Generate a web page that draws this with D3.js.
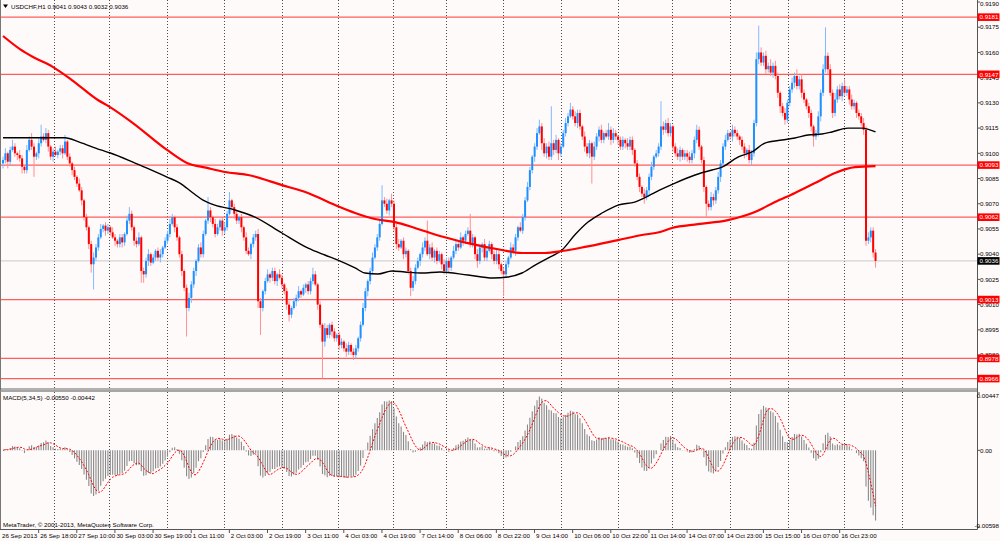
<!DOCTYPE html>
<html><head><meta charset="utf-8">
<script src="https://cdn.jsdelivr.net/npm/d3@7"></script>
<style>
html,body{margin:0;padding:0;background:#fffafa;}
svg{display:block;font-family:"Liberation Sans",Arial,sans-serif;}
</style>
</head><body>
<svg id="c" width="1000" height="541"></svg>
<script>
// ---------------- DATA ----------------
const symbolTitle = "USDCHF,H1";
const headerOHLC = ["0.9041", "0.9043", "0.9032", "0.9036"];
const macdTitle = "MACD(5,34,5) -0.00550 -0.00442";
const copyright = "MetaTrader, \u00A9 2001-2013, MetaQuotes Software Corp.";
const basePrice = 0.9;           // price values below are pips above 0.9000
const firstOpen = 94;
const closes = [
  96,100,95,102,104,100,99,97,92,90,
  102,108,104,98,100,106,110,108,112,104,
  98,101,99,101,103,100,107,98,94,90,
  86,82,78,72,62,56,46,34,38,44,
  50,55,57,54,56,53,50,48,46,50,
  47,52,60,64,56,48,46,50,30,28,
  36,40,35,38,42,38,40,44,48,52,
  58,62,56,50,40,30,20,8,14,22,
  30,36,44,40,52,60,66,62,58,52,
  56,60,54,56,64,72,68,64,60,62,
  56,50,42,40,46,50,52,12,8,18,
  24,28,26,30,24,28,26,22,18,10,
  4,8,12,14,18,16,20,22,18,24,
  28,22,10,-2,-12,-4,-8,-2,-6,-10,
  -8,-14,-12,-16,-18,-14,-18,-20,-16,-10,
  -2,8,18,24,30,38,44,50,58,72,
  70,66,72,70,56,46,44,48,40,42,
  30,20,24,32,36,40,44,48,40,44,
  38,42,36,40,34,30,36,32,38,42,
  46,44,50,48,52,54,46,50,40,36,
  44,46,38,42,46,40,36,40,34,30,
  28,34,38,44,42,50,56,54,62,72,
  80,90,98,104,112,116,106,100,104,98,
  106,102,108,100,104,112,118,122,126,122,
  118,124,116,110,104,100,106,98,104,110,
  114,108,112,110,114,108,112,110,108,104,
  108,106,104,108,102,94,86,80,76,74,
  78,86,92,98,100,104,116,114,118,112,
  116,104,100,98,102,98,100,98,96,100,
  108,114,104,96,80,70,68,74,72,78,
  86,94,104,108,112,110,114,112,110,108,
  104,100,102,96,100,118,156,160,154,158,
  150,152,148,152,146,136,128,124,120,130,
  138,142,146,140,144,136,132,128,124,116,
  110,112,122,136,150,158,150,136,124,132,
  138,134,140,136,138,132,128,130,124,122,
  118,114,48,50,54,41,36
];
const wickUp = [
  2,3,1,2,4,2,1,3,2,1,
  3,2,4,2,1,3,7,2,3,2,
  1,2,3,1,2,2,4,1,2,1,
  2,1,3,2,1,2,1,2,3,2,
  2,3,1,2,2,1,3,2,1,2,
  2,1,3,4,2,1,2,3,1,2,
  2,3,1,2,1,2,3,1,2,2,
  3,2,1,2,1,2,1,2,3,2,
  2,1,2,3,2,1,8,2,1,3,
  2,1,2,3,2,5,1,2,2,1,
  2,1,3,2,1,2,2,3,2,1,
  2,3,1,2,2,1,3,2,1,2,
  2,1,2,2,3,1,2,1,2,2,
  4,2,1,2,1,3,2,1,2,2,
  1,2,2,1,3,2,1,2,2,1,
  2,3,2,1,2,3,2,2,3,9,
  2,3,1,4,2,2,3,1,2,2,
  1,2,3,2,2,1,3,2,12,2,
  3,1,2,2,1,3,2,2,1,3,
  2,2,3,1,2,2,10,2,1,3,
  2,1,3,2,2,1,2,3,2,1,
  2,2,1,3,2,2,1,3,2,2,
  3,2,1,2,3,4,2,3,2,3,
  22,2,3,1,2,2,3,2,4,2,
  3,2,2,1,3,2,2,1,3,2,
  2,3,1,2,4,2,3,2,1,2,
  2,1,3,2,2,1,2,2,1,3,
  2,2,3,1,2,2,15,3,2,3,
  2,1,2,3,2,1,2,2,3,2,
  2,3,2,1,2,1,2,3,2,2,
  3,2,2,3,2,1,3,2,2,1,
  2,2,1,3,2,2,4,16,3,2,
  3,2,4,2,3,2,1,2,3,2,
  2,3,2,4,2,3,2,1,2,2,
  1,2,3,2,3,17,2,3,2,4,
  2,3,2,4,2,2,3,2,1,2,
  2,3,2,3,2,2,2
];
const wickDn = [
  3,2,4,2,1,2,3,2,4,2,
  2,1,2,12,2,3,2,1,2,3,
  2,3,1,2,2,3,1,2,2,3,
  2,2,1,3,2,2,3,5,15,2,
  2,1,2,3,2,2,1,3,2,2,
  3,2,1,2,2,3,2,1,7,5,
  2,3,2,1,2,2,3,2,1,2,
  2,1,3,2,2,3,2,17,2,3,
  2,3,1,2,2,1,2,3,2,2,
  1,2,3,2,2,1,2,3,2,2,
  3,2,2,1,3,2,2,4,16,2,
  2,1,3,2,2,3,1,2,2,3,
  4,2,1,3,2,2,1,3,2,2,
  2,1,3,2,22,3,2,2,3,2,
  2,3,2,2,3,2,2,3,2,2,
  2,1,2,3,2,2,1,2,2,1,
  2,2,3,2,2,3,2,1,3,2,
  2,5,2,2,1,3,2,2,1,3,
  2,3,2,1,3,2,2,3,2,1,
  2,2,1,3,2,1,2,2,3,4,
  2,3,2,2,1,3,2,2,3,2,
  13,2,2,1,2,3,2,1,2,2,
  1,2,2,3,2,1,4,2,3,2,
  2,3,2,4,2,1,2,2,1,2,
  2,3,2,2,3,2,3,16,2,2,
  3,2,2,1,2,3,2,2,3,2,
  2,3,2,2,3,2,2,3,2,4,
  2,3,2,2,1,2,2,3,2,2,
  2,3,2,2,3,2,2,3,2,2,
  3,2,2,2,3,8,2,2,3,2,
  2,3,2,2,1,2,3,2,2,3,
  2,3,2,2,3,2,2,3,2,2,
  3,2,2,3,2,3,4,2,3,2,
  2,2,3,2,2,3,2,2,3,3,
  6,2,2,3,2,2,3,2,3,2,
  2,2,3,2,2,3,2,2,3,2,
  2,3,3,2,3,3,4
];
// moving averages: [bar index, pips above 0.9000]
const maBlack = [[0,109.3],[26,109.3],[32,106.7],[41,102],[45,100.2],[54.5,94.8],[60.4,91.2],[68.8,85.9],[74.2,82.3],[79.7,76.4],[83.9,72.2],[88.9,69.2],[97.3,66.3],[105.7,62.1],[117,52.6],[128,43.6],[135,39.5],[140.5,36.5],[147.7,31.8],[151.8,28.8],[157.3,28.2],[163.2,30],[168.6,29.4],[175.8,28.8],[183.3,29.4],[195,27.6],[205.5,25.8],[211.8,26.4],[217.7,28.8],[223.2,33.5],[228.6,37.7],[234.5,42.5],[239.9,51.5],[245.4,59.1],[251.3,64.5],[258,69.2],[265,71],[270.6,74.6],[275.6,78.2],[281.9,82.3],[290.3,87.1],[297.4,90.1],[301.6,91.8],[308.3,97.8],[314.2,100.8],[319.6,106.1],[326.8,107.9],[332.2,109.1],[337.7,110.9],[343.5,111.5],[347.7,112.7],[354.4,115],[360.3,115],[366,112.7]];
const maRed = [[0,169.8],[7.1,162],[12.6,157.3],[21,151.3],[28.9,143.6],[39.8,131.7],[44.9,127.5],[54.5,118],[68.8,102],[77.2,94.2],[85.6,91.3],[93.1,88.9],[102.8,87.1],[117,81.1],[127.9,76.4],[139.3,69.2],[147.7,64.5],[156,60.9],[164.4,59.1],[172.8,55.6],[183.3,50.8],[195,46.6],[209.3,42.5],[217.7,40.7],[227.3,40.7],[234.5,41.9],[244.1,44.3],[258,48.4],[268,51.4],[275.6,53.2],[280.6,55.6],[291.5,57.9],[304.1,60.3],[315.4,65.1],[323.8,71],[332.2,76.4],[340.6,82.3],[349,88.3],[357.4,91.8],[366,92.4]];
const levels = [0.9181, 0.9147, 0.9093, 0.9062, 0.9013, 0.8978, 0.8966];
const lastPrice = 0.9036;
const priceTicks = [0.9190,0.9175,0.9160,0.9145,0.9130,0.9115,0.9100,0.9085,0.9070,0.9055,0.9040,0.9025,0.9010,0.8995,0.8980,0.8965];
const priceDomain = [0.89604, 0.91912];
const macdTicks = [0.00447, 0, -0.00598];
const macdTickLabels = ["0.00447", "0.00", "-0.00598"];
const macdFast = 5, macdSlow = 34, macdSignal = 5;
const timeLabels = ["26 Sep 2013","26 Sep 18:00","27 Sep 10:00","30 Sep 03:00","30 Sep 19:00","1 Oct 11:00","2 Oct 03:00","2 Oct 19:00","3 Oct 11:00","4 Oct 03:00","4 Oct 19:00","7 Oct 14:00","8 Oct 06:00","8 Oct 22:00","9 Oct 14:00","10 Oct 06:00","10 Oct 22:00","11 Oct 14:00","14 Oct 07:00","14 Oct 23:00","15 Oct 15:00","16 Oct 07:00","16 Oct 23:00"];
const labelEvery = 16;
const gridBars = [21.4,44.5,68.8,92.7,117.0,140.5,163.6,185.8,209.7,234.1,258.0,280.6,304.9,329.3,352.8,377.1];

// ---------------- LAYOUT ----------------
const plotR = 977, mainTop = 0, mainBot = 388, macdTop = 392, macdBot = 529;
const barStep = 2.384, x0 = 3;
const FS = 6.2;
const svg = d3.select("#c");
const N = closes.length;
const P = p => basePrice + p / 10000;

const x = d3.scaleLinear().domain([0, N - 1]).range([x0, x0 + (N - 1) * barStep]);
const y = d3.scaleLinear().domain(priceDomain).range([mainBot, mainTop]);
const ym = d3.scaleLinear().domain([macdTicks[2], macdTicks[0]]).range([527, 393]);

svg.append("rect").attr("width", 1000).attr("height", 541).attr("fill", "#fffafa");

const defs = svg.append("defs");
defs.append("clipPath").attr("id", "clipMain").append("rect")
  .attr("x", 1).attr("y", mainTop).attr("width", plotR - 1).attr("height", mainBot - mainTop);
defs.append("clipPath").attr("id", "clipMacd").append("rect")
  .attr("x", 1).attr("y", macdTop).attr("width", plotR - 1).attr("height", macdBot - macdTop);

// vertical dotted grid (both panels)
const grid = svg.append("g");
gridBars.forEach(b => {
  const gx = Math.round(x(b)) + 0.5;
  [[mainTop, mainBot], [macdTop, macdBot]].forEach(([a, c]) => {
    grid.append("line").attr("x1", gx).attr("x2", gx).attr("y1", a).attr("y2", c)
      .attr("stroke", "#4a4a4a").attr("stroke-width", 1).attr("stroke-dasharray", "1,2");
  });
});

const main = svg.append("g").attr("clip-path", "url(#clipMain)");

// horizontal levels
levels.forEach(v => {
  main.append("line").attr("x1", 0).attr("x2", plotR).attr("y1", y(v)).attr("y2", y(v))
    .attr("stroke", "#ff5c5c").attr("stroke-width", 1.3);
});
main.append("line").attr("x1", 0).attr("x2", plotR).attr("y1", y(lastPrice)).attr("y2", y(lastPrice))
  .attr("stroke", "#c8c8c8").attr("stroke-width", 1);

// candles
const candles = closes.map((c, i) => {
  const o = i === 0 ? firstOpen : closes[i - 1];
  return { i, o: P(o), c: P(c), h: P(Math.max(o, c) + (wickUp[i] || 0)), l: P(Math.min(o, c) - (wickDn[i] || 0)) };
});
const cg = main.append("g");
cg.selectAll("line.w").data(candles).join("line")
  .attr("x1", d => x(d.i)).attr("x2", d => x(d.i))
  .attr("y1", d => y(d.h)).attr("y2", d => y(d.l))
  .attr("stroke", d => d.c >= d.o ? "#7fbaff" : "#ff8f8f").attr("stroke-width", 1);
cg.selectAll("rect.b").data(candles).join("rect")
  .attr("x", d => x(d.i) - 1).attr("width", 2)
  .attr("y", d => Math.min(y(d.o), y(d.c)))
  .attr("height", d => Math.max(1, Math.abs(y(d.o) - y(d.c))))
  .attr("fill", d => d.c >= d.o ? "#1e90ff" : "#ff0000");

// moving averages
const maLine = d3.line().x(d => x(d[0])).y(d => y(P(d[1]))).curve(d3.curveMonotoneX);
main.append("path").attr("d", maLine(maBlack)).attr("fill", "none").attr("stroke", "#000").attr("stroke-width", 1.4);
main.append("path").attr("d", maLine(maRed)).attr("fill", "none").attr("stroke", "#ff0000").attr("stroke-width", 2.2);

// MACD (5,34,5) computed from the closes
const px = closes.map(P);
const aF = 2 / (macdFast + 1), aS = 2 / (macdSlow + 1);
let ef = px[0], es = px[0];
const macd = px.map((v, i) => {
  if (i > 0) { ef += aF * (v - ef); es += aS * (v - es); }
  return ef - es;
});
const signal = macd.map((v, i) => d3.mean(macd.slice(Math.max(0, i - macdSignal + 1), i + 1)));

const mg = svg.append("g").attr("clip-path", "url(#clipMacd)");
mg.selectAll("line.h").data(macd).join("line")
  .attr("x1", (d, i) => x(i)).attr("x2", (d, i) => x(i))
  .attr("y1", ym(0)).attr("y2", d => ym(d))
  .attr("stroke", "#8a8a8a").attr("stroke-width", 1.1);
mg.append("path")
  .attr("d", d3.line().x((d, i) => x(i)).y(d => ym(d))(signal))
  .attr("fill", "none").attr("stroke", "#ff0000").attr("stroke-width", 1).attr("stroke-dasharray", "2,1.5");

// frame lines
svg.append("line").attr("x1", 0.5).attr("x2", 0.5).attr("y1", 0).attr("y2", macdBot).attr("stroke", "#777");
svg.append("line").attr("x1", plotR + 0.5).attr("x2", plotR + 0.5).attr("y1", 0).attr("y2", macdBot + 0.5).attr("stroke", "#555");
svg.append("line").attr("x1", 0).attr("x2", plotR + 0.5).attr("y1", macdBot + 0.5).attr("y2", macdBot + 0.5).attr("stroke", "#555");
svg.append("line").attr("x1", 0).attr("x2", plotR).attr("y1", mainBot + 1).attr("y2", mainBot + 1).attr("stroke", "#666").attr("stroke-width", 1);
svg.append("line").attr("x1", 0).attr("x2", plotR).attr("y1", mainBot + 3).attr("y2", mainBot + 3).attr("stroke", "#8a8a8a").attr("stroke-width", 1.5);

// right price axis
const ax = svg.append("g").attr("font-size", FS).attr("fill", "#000");
priceTicks.forEach(v => {
  const ty = y(v);
  ax.append("line").attr("x1", plotR).attr("x2", plotR + 3).attr("y1", ty).attr("y2", ty).attr("stroke", "#555");
  ax.append("text").attr("x", plotR + 3).attr("y", Math.max(ty + 2.2, 6)).text(v.toFixed(4));
});
levels.forEach(v => {
  const ty = y(v);
  ax.append("rect").attr("x", plotR + 0.5).attr("y", ty - 3.8).attr("width", 22).attr("height", 7.6).attr("fill", "#ff0000");
  ax.append("text").attr("x", plotR + 2.5).attr("y", ty + 2.2).attr("fill", "#fff").text(v.toFixed(4));
});
{
  const ty = y(lastPrice);
  ax.append("rect").attr("x", plotR + 0.5).attr("y", ty - 3.8).attr("width", 22).attr("height", 7.6).attr("fill", "#000");
  ax.append("text").attr("x", plotR + 2.5).attr("y", ty + 2.2).attr("fill", "#fff").text(lastPrice.toFixed(4));
}
// MACD axis
macdTicks.forEach((v, k) => {
  const ty = ym(v);
  ax.append("line").attr("x1", plotR).attr("x2", plotR + 3).attr("y1", ty).attr("y2", ty).attr("stroke", "#555");
  const t = ax.append("text").attr("y", Math.min(Math.max(ty + 2.2, 398), 528)).text(macdTickLabels[k]);
  if (k === 1) t.attr("x", plotR + 3);
  else t.attr("x", 999).attr("text-anchor", "end");
});

// time axis
timeLabels.forEach((t, k) => {
  const tx = x(k * labelEvery);
  if (k > 0) svg.append("line").attr("x1", tx - 2.5).attr("x2", tx - 2.5).attr("y1", macdBot).attr("y2", macdBot + 4).attr("stroke", "#555");
  ax.append("text").attr("x", tx - 1).attr("y", 537.5).text(t);
});

// header texts
svg.append("path").attr("d", "M3,4.5 L8,4.5 L5.5,8 Z").attr("fill", "#000");
ax.append("text").attr("x", 11).attr("y", 8.5).text(symbolTitle + "  " + headerOHLC.join(" "));
ax.append("text").attr("x", 3).attr("y", 399.5).text(macdTitle);
ax.append("text").attr("x", 3).attr("y", 527).text(copyright);
</script>
</body></html>
